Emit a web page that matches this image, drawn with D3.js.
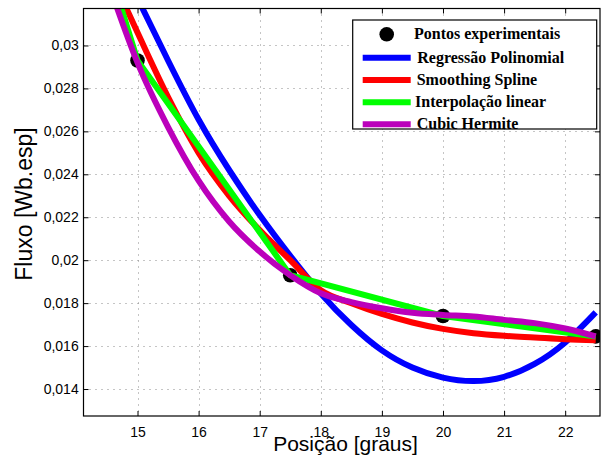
<!DOCTYPE html>
<html><head><meta charset="utf-8">
<script src="https://cdn.jsdelivr.net/npm/d3@7"></script>
<style>body{margin:0;background:#fff} svg{display:block}</style>
</head><body>
<svg id="c" width="601" height="456"></svg>
<script>
// ---- data ----
const expX = [15, 17.5, 20, 22.5];
const expY = [0.0293, 0.0193, 0.0174, 0.01645];

const sampleX   = [14.5, 15, 15.5, 16, 16.5, 17, 17.5, 18, 18.5, 19, 19.5, 20, 20.5, 21, 21.5, 22, 22.5];
const regressao = [0.0352, 0.0322, 0.0293, 0.02655, 0.0242, 0.0221, 0.0202, 0.01845, 0.01698, 0.0158, 0.0150, 0.01453, 0.01437, 0.01457, 0.01517, 0.01617, 0.01757];
const smoothing = [0.0337, 0.0306, 0.0276, 0.0250, 0.0230, 0.0214, 0.0200, 0.0186, 0.0180, 0.0175, 0.0171, 0.0168, 0.0166, 0.01648, 0.0164, 0.01632, 0.01627];
const hermite   = [0.0331, 0.0292, 0.0262, 0.0237, 0.0218, 0.0204, 0.0193, 0.01846, 0.01805, 0.01776, 0.01755, 0.01745, 0.01738, 0.01722, 0.01707, 0.01682, 0.01645];

const linearX = [14.5, 15, 17.5, 20, 22.5];
const linearY = [0.0339, 0.0293, 0.0193, 0.0174, 0.01645];

const xTicks = [15, 16, 17, 18, 19, 20, 21, 22];
const xTickLabels = ["15", "16", "17", "18", "19", "20", "21", "22"];
const yTicks = [0.014, 0.016, 0.018, 0.02, 0.022, 0.024, 0.026, 0.028, 0.03];
const yTickLabels = ["0,014", "0,016", "0,018", "0,02", "0,022", "0,024", "0,026", "0,028", "0,03"];

const legendLabels = ["Pontos experimentais", "Regressão Polinomial", "Smoothing Spline", "Interpolação linear", "Cubic Hermite"];
const colors = ["#000000", "#0000ff", "#ff0000", "#00ff00", "#bb00bb"];

const xTitle = "Posição [graus]";
const yTitle = "Fluxo [Wb.esp]";

// ---- layout ----
const L = 83.5, R = 600, T = 8.5, B = 416;
const x = d3.scaleLinear().domain([14.116, 22.57]).range([L, R]);
const y = d3.scaleLinear().domain([0.012744, 0.031721]).range([B, T]);

const svg = d3.select("#c");
const sans = "'Liberation Sans', Arial, Helvetica, sans-serif";
const serif = "'Liberation Serif', 'Times New Roman', serif";

svg.append("defs").append("clipPath").attr("id", "clip")
  .append("rect").attr("x", L).attr("y", T).attr("width", R - L).attr("height", B - T);

// grid
const grid = svg.append("g").attr("stroke", "#8a8a8a").attr("stroke-width", 1).attr("stroke-dasharray", "1,5");
grid.selectAll(".gx").data(xTicks).join("line")
  .attr("x1", d => Math.round(x(d)) + 0.5).attr("x2", d => Math.round(x(d)) + 0.5)
  .attr("y1", T).attr("y2", B);
grid.selectAll(".gy").data(yTicks).join("line")
  .attr("y1", d => Math.round(y(d)) + 0.5).attr("y2", d => Math.round(y(d)) + 0.5)
  .attr("x1", L).attr("x2", R);

// axes
function styleAxis(g) {
  g.select(".domain").remove();
  g.selectAll(".tick line").attr("stroke", "#000");
  g.selectAll("text").attr("font-family", sans).attr("font-size", 14).attr("fill", "#000");
}
svg.append("g").attr("transform", `translate(0,${B})`)
  .call(d3.axisBottom(x).tickValues(xTicks).tickFormat((d, i) => xTickLabels[i]).tickSizeInner(-5).tickSizeOuter(0).tickPadding(11.5))
  .call(styleAxis);
svg.append("g").attr("transform", `translate(0,${T})`)
  .call(d3.axisTop(x).tickValues(xTicks).tickFormat("").tickSizeInner(-5).tickSizeOuter(0))
  .call(styleAxis);
svg.append("g").attr("transform", `translate(${L},0)`)
  .call(d3.axisLeft(y).tickValues(yTicks).tickFormat((d, i) => yTickLabels[i]).tickSizeInner(-5).tickSizeOuter(0).tickPadding(4.8))
  .call(styleAxis);
svg.append("g").attr("transform", `translate(${R},0)`)
  .call(d3.axisRight(y).tickValues(yTicks).tickFormat("").tickSizeInner(-5).tickSizeOuter(0))
  .call(styleAxis);

// plot content
const plot = svg.append("g").attr("clip-path", "url(#clip)");

plot.selectAll(".pt").data(expX).join("circle")
  .attr("cx", d => x(d)).attr("cy", (d, i) => y(expY[i])).attr("r", 7.3).attr("fill", "#000");

const lw = 6;
const lineSmooth = d3.line().x(d => x(d[0])).y(d => y(d[1]));
plot.append("path").datum(sampleX.map((v, i) => [v, regressao[i]]))
  .attr("d", lineSmooth.curve(d3.curveNatural))
  .attr("fill", "none").attr("stroke", colors[1]).attr("stroke-width", lw);
plot.append("path").datum(sampleX.map((v, i) => [v, smoothing[i]]))
  .attr("d", lineSmooth.curve(d3.curveMonotoneX))
  .attr("fill", "none").attr("stroke", colors[2]).attr("stroke-width", lw);
plot.append("path").datum(linearX.map((v, i) => [v, linearY[i]]))
  .attr("d", lineSmooth.curve(d3.curveLinear))
  .attr("fill", "none").attr("stroke", colors[3]).attr("stroke-width", lw).attr("stroke-linejoin", "round");
plot.append("path").datum(sampleX.map((v, i) => [v, hermite[i]]))
  .attr("d", lineSmooth.curve(d3.curveMonotoneX))
  .attr("fill", "none").attr("stroke", colors[4]).attr("stroke-width", lw);

// frame
svg.append("rect").attr("x", L).attr("y", T).attr("width", R - L).attr("height", B - T)
  .attr("fill", "none").attr("stroke", "#000").attr("stroke-width", 1.2);

// axis titles
svg.append("text").attr("x", 345.5).attr("y", 451)
  .attr("text-anchor", "middle").attr("font-family", sans).attr("font-size", 21).text(xTitle);
svg.append("text").attr("transform", "translate(32,204) rotate(-90)")
  .attr("text-anchor", "middle").attr("font-family", sans).attr("font-size", 23).text(yTitle);

// legend
const lg = svg.append("g");
lg.append("rect").attr("x", 352.7).attr("y", 20).attr("width", 244).attr("height", 109)
  .attr("fill", "#fff").attr("stroke", "#000").attr("stroke-width", 1.2);
const rowY = [34.3, 57.7, 80, 102.3, 124.3];
const textX = [414, 417.3, 416.7, 415, 416.7];
legendLabels.forEach((lab, i) => {
  if (i === 0) {
    lg.append("circle").attr("cx", 386.7).attr("cy", rowY[i]).attr("r", 7.3).attr("fill", colors[i]);
  } else {
    lg.append("line").attr("x1", 362.7).attr("x2", 410.7).attr("y1", rowY[i]).attr("y2", rowY[i])
      .attr("stroke", colors[i]).attr("stroke-width", 6);
  }
  lg.append("text").attr("x", textX[i]).attr("y", rowY[i] + 5)
    .attr("font-family", serif).attr("font-weight", "bold").attr("font-size", 16).text(lab);
});
</script>
</body></html>
